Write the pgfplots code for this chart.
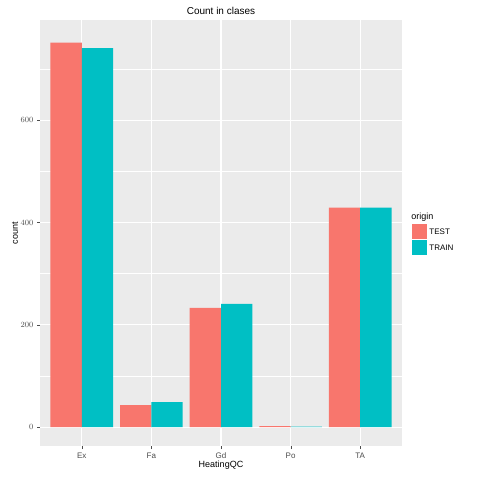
\documentclass[border=0pt]{standalone}
\usepackage{pgfplots}
\pgfplotsset{compat=1.18}
\usepackage{fontspec}
\setmainfont{Liberation Sans}
\definecolor{cTest}{HTML}{F8766D}
\definecolor{cTrain}{HTML}{00BFC4}
\definecolor{bg}{HTML}{EBEBEB}
\definecolor{tk}{HTML}{4D4D4D}
\begin{document}
\begin{tikzpicture}[x=1pt,y=1pt]
\path[use as bounding box,fill=white] (0,0) rectangle (480,480);
\begin{axis}[at={(40pt,34pt)},anchor=south west,scale only axis,
 width=362pt,height=426pt,
 xmin=-0.6,xmax=4.6,ymin=-37,ymax=796,
 axis background/.style={fill=bg},axis line style={draw=none},
 xtick={0,1,2,3,4},xticklabels={Ex,Fa,Gd,Po,TA},
 ytick={0,200,400,600},minor ytick={100,300,500,700},
 grid=both,major grid style={white,line width=1.1pt},minor grid style={white,line width=0.5pt},
 tick style={draw=tk},major tick length=3pt,minor tick length=0pt,
 tick label style={font=\fontsize{8}{9}\selectfont,text=tk},
 xtick pos=bottom,ytick pos=left,tick align=outside,
 ybar,bar width=0.45,
 title={Count in clases},title style={font=\fontsize{10}{12}\selectfont,yshift=-4pt},
 xlabel={HeatingQC},ylabel={count},
 label style={font=\fontsize{9}{11}\selectfont},
 xlabel style={yshift=4pt},ylabel style={yshift=-4pt},
 legend style={at={(1.02,0.5)},anchor=west,draw=none,fill=none,font=\fontsize{8}{10}\selectfont,row sep=1pt},
 legend cell align=left,
 legend image code/.code={\fill[#1] (0pt,-7pt) rectangle (15pt,8pt);},
]
\addlegendimage{empty legend}\addlegendentry{\hspace{-18pt}\fontsize{9}{11}\selectfont origin}
\addplot[fill=cTest,draw=none,bar shift=-0.225] coordinates {(0,752) (1,43) (2,233) (3,2) (4,429)};
\addlegendentry{TEST}
\addplot[fill=cTrain,draw=none,bar shift=0.225] coordinates {(0,741) (1,49) (2,241) (3,1) (4,429)};
\addlegendentry{TRAIN}
\end{axis}
\end{tikzpicture}
\end{document}
